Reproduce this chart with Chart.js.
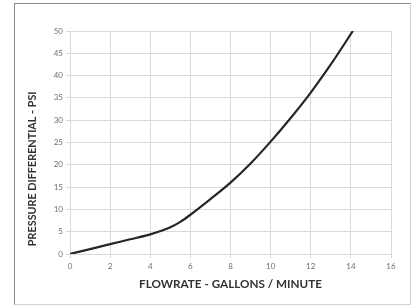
<!DOCTYPE html>
<html>
<head>
<meta charset="utf-8">
<script src="https://cdn.jsdelivr.net/npm/chart.js@4"></script>
<style>
  html, body { margin: 0; padding: 0; background: #fff; }
  #wrap { position: relative; width: 414px; height: 305px; }
  #frame {
    position: absolute; left: 14px; top: 3px; width: 395px; height: 300px;
    border-top: 1px solid #8a8a8a; border-left: 1px solid #8a8a8a;
    border-right: 1px solid #d4d4d4; border-bottom: 1px solid #d4d4d4;
  }
  canvas { position: absolute; left: 0; top: 0; }
</style>
</head>
<body>
<div id="wrap">
  <div id="frame"></div>
  <canvas id="chart" width="414" height="305"></canvas>
</div>
<script>
// ===== Data =====
const flowRate = [0, 1, 2, 3, 4, 5, 5.5, 6, 7, 8, 9, 10, 11, 12, 13, 14.1];
const pressure = [0, 1.1, 2.2, 3.3, 4.4, 6, 7.2, 8.8, 12.3, 16, 20.3, 25.2, 30.5, 36.2, 42.5, 50];
const xTitle = 'FLOWRATE - GALLONS / MINUTE';
const yTitle = '\u00a0\u00a0\u00a0PRESSURE DIFFERENTIAL - PSI';

const points = flowRate.map((x, i) => ({ x: x, y: pressure[i] }));

const gridColor = '#d9d9d9';
const tickFont = { family: 'Lato', size: 8 };

new Chart(document.getElementById('chart'), {
  type: 'line',
  data: {
    datasets: [{
      data: points,
      borderColor: '#262626',
      borderWidth: 2.2,
      pointRadius: 0,
      fill: false,
      cubicInterpolationMode: 'monotone'
    }]
  },
  options: {
    responsive: false,
    animation: false,
    layout: { padding: { top: 31, right: 23, bottom: 0, left: 0 } },
    plugins: { legend: { display: false }, tooltip: { enabled: false } },
    scales: {
      x: {
        type: 'linear',
        min: 0,
        max: 16,
        ticks: { stepSize: 2, color: '#6e6e6e', font: tickFont, padding: 4 },
        grid: { color: gridColor, tickLength: 4 },
        border: { color: gridColor },
        title: {
          display: true, text: xTitle, color: '#333',
          font: { family: 'Lato', size: 11.7, weight: 'bold' },
          padding: { top: 0, bottom: 14 }
        },
        afterFit: (scale) => { scale.height = 51; }
      },
      y: {
        min: 0,
        max: 50,
        ticks: { stepSize: 5, color: '#6e6e6e', font: tickFont, padding: 3 },
        grid: { color: gridColor, tickLength: 4 },
        border: { color: gridColor },
        title: {
          display: true, text: yTitle, color: '#333',
          font: { family: 'Lato', size: 10.8, weight: 'bold' },
          align: 'start', padding: { top: 26, bottom: 0 }
        },
        afterFit: (scale) => { scale.width = 70; }
      }
    }
  }
});
</script>
</body>
</html>
